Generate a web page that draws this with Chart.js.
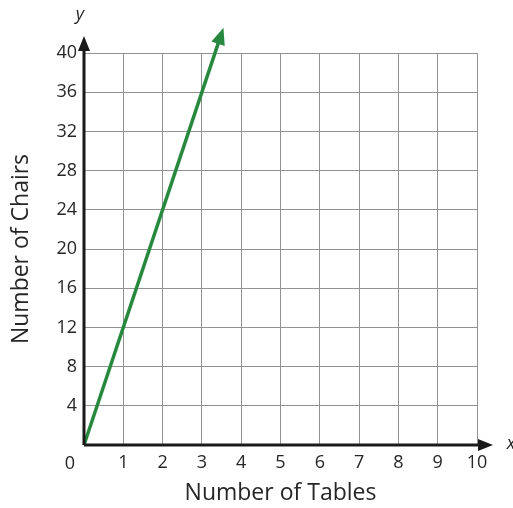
<!DOCTYPE html>
<html>
<head>
<meta charset="utf-8">
<script src="https://cdn.jsdelivr.net/npm/chart.js@4"></script>
<style>
  html, body { margin: 0; padding: 0; background: #fff; }
  #wrap { width: 513px; height: 508px; }
</style>
</head>
<body>
<div id="wrap"><canvas id="chart" width="513" height="508"></canvas></div>
<script>
// data
const tablesX = [0, 3.5];
const chairsY = [0, 42];
const xTicks = [0, 1, 2, 3, 4, 5, 6, 7, 8, 9, 10];
const yTicks = [4, 8, 12, 16, 20, 24, 28, 32, 36, 40];
const xTitle = 'Number of Tables';
const yTitle = 'Number of Chairs';

const FONT = "'Open Sans', 'Noto Sans', sans-serif";
const green = '#26893e';
const textColor = '#262626';

function arrowHead(ctx, x, y, ang, len, half, color) {
    ctx.save();
    ctx.fillStyle = color;
    ctx.translate(x, y);
    ctx.rotate(ang);
    ctx.beginPath();
    ctx.moveTo(0, 0);
    ctx.lineTo(-len, -half);
    ctx.lineTo(-len, half);
    ctx.closePath();
    ctx.fill();
    ctx.restore();
}

// plugin untuk sumbu, panah dan label
const axesPlugin = {
    id: 'axesArrows',
    afterDatasetsDraw(chart) {
        const ctx = chart.ctx;
        const xs = chart.scales.x, ys = chart.scales.y;
        const x0 = xs.getPixelForValue(0), y0 = ys.getPixelForValue(0);
        const xEnd = xs.getPixelForValue(10) + 16;
        const yEnd = ys.getPixelForValue(40) - 17;

        ctx.save();
        ctx.strokeStyle = '#1a1a1a';
        ctx.lineWidth = 3;
        ctx.beginPath();
        ctx.moveTo(x0, y0);
        ctx.lineTo(xEnd - 10, y0);
        ctx.moveTo(x0, y0);
        ctx.lineTo(x0, yEnd + 10);
        ctx.stroke();
        arrowHead(ctx, xEnd, y0, 0, 15, 6, '#1a1a1a');
        arrowHead(ctx, x0, yEnd, -Math.PI / 2, 15, 6, '#1a1a1a');

        // panah garis hijau
        const px1 = xs.getPixelForValue(tablesX[0]), py1 = ys.getPixelForValue(chairsY[0]);
        const px2 = xs.getPixelForValue(tablesX[1]), py2 = ys.getPixelForValue(chairsY[1]);
        const ang = Math.atan2(py2 - py1, px2 - px1);
        arrowHead(ctx, px2 + Math.cos(ang) * 6, py2 + Math.sin(ang) * 6, ang, 17, 7, green);

        ctx.fillStyle = textColor;
        ctx.font = 'italic 18px ' + FONT;
        ctx.textAlign = 'center';
        ctx.textBaseline = 'middle';
        ctx.fillText('y', x0 - 4, 15);
        ctx.fillText('x', xEnd + 18, y0 - 1);
        ctx.font = '18px ' + FONT;
        ctx.fillText('0', x0 - 14, y0 + 19);
        ctx.restore();
    }
};

const ctx = document.getElementById('chart').getContext('2d');
new Chart(ctx, {
    type: 'scatter',
    data: {
        datasets: [{
            data: tablesX.map((v, i) => ({ x: v, y: chairsY[i] })),
            showLine: true,
            borderColor: green,
            borderWidth: 3.5,
            pointRadius: 0,
            clip: false
        }]
    },
    options: {
        responsive: false,
        animation: false,
        layout: { padding: { top: 53, right: 36, left: 0, bottom: 0 } },
        plugins: { legend: { display: false }, tooltip: { enabled: false } },
        scales: {
            x: {
                type: 'linear', min: 0, max: 10,
                afterBuildTicks: s => { s.ticks = xTicks.map(v => ({ value: v })); },
                afterFit: s => { s.height = 63; },
                ticks: {
                    callback: v => (v === 0 ? '' : String(v)),
                    color: textColor, font: { family: FONT, size: 18 }, padding: 7, maxRotation: 0
                },
                grid: { color: '#929292', lineWidth: 1, drawTicks: false },
                border: { display: false },
                title: { display: true, text: xTitle, color: textColor, font: { family: FONT, size: 23 }, padding: { top: 0, bottom: 1 } }
            },
            y: {
                type: 'linear', min: 0, max: 40,
                afterBuildTicks: s => { s.ticks = [0].concat(yTicks).map(v => ({ value: v })); },
                afterFit: s => { s.width = 84; },
                ticks: {
                    callback: v => (v === 0 ? '' : String(v)),
                    color: textColor, font: { family: FONT, size: 18 }, padding: 7
                },
                grid: { color: '#929292', lineWidth: 1, drawTicks: false },
                border: { display: false },
                title: { display: true, text: yTitle, color: textColor, font: { family: FONT, size: 23 }, padding: { top: 8, bottom: 0 } }
            }
        }
    },
    plugins: [axesPlugin]
});
</script>
</body>
</html>
